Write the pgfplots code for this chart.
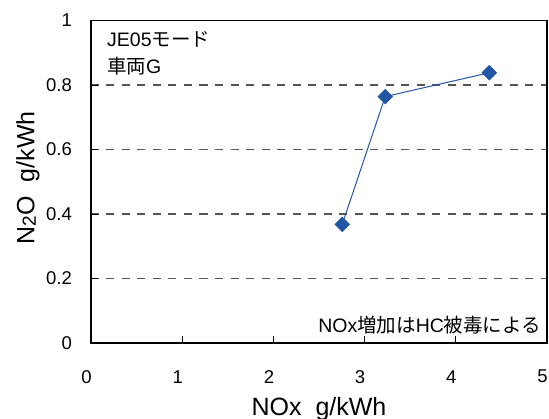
\documentclass[border=0pt]{standalone}
\usepackage{pgfplots}
\pgfplotsset{compat=1.18}
\usepackage{fontspec}
\setmainfont{Liberation Sans}
\newfontfamily\jp{Noto Sans CJK JP}
\definecolor{ser}{RGB}{35,85,165}
\definecolor{grd}{RGB}{85,85,85}
\begin{document}
\begin{tikzpicture}
\useasboundingbox (-91pt,-76pt) rectangle (458pt,343pt);
\begin{axis}[
  at={(0,0)}, anchor=south west,
  scale only axis, width=456pt, height=322.5pt,
  xmin=0, xmax=5, ymin=0, ymax=1,
  xtick={0,1,2,3,4,5}, ytick={0,0.2,0.4,0.6,0.8,1},
  tick align=inside, xtick pos=bottom, ytick pos=left,
  major tick length=7pt,
  tick style={black, line width=0.8pt},
  axis line style={black, line width=1.2pt},
  ymajorgrids,
  major grid style={grd, line width=1.1pt, dash pattern=on 8pt off 7.5pt},
  /pgf/number format/assume math mode=true,
  ticklabel style={font=\fontsize{18.5}{20}\selectfont},
  xticklabel style={anchor=center, inner sep=0pt, yshift=-33.7pt, xshift=-4.5pt},
  yticklabel style={anchor=east, inner sep=0pt, xshift=-19pt},
  xlabel={NOx\ \ g/kWh},
  ylabel={N{\fontsize{19}{19}\selectfont\raisebox{-1.5pt}{2}}O\ \ g/kWh},
  label style={font=\fontsize{25}{27}\selectfont, inner sep=0pt},
  xlabel style={at={(axis description cs:0.5,-0.2233)}, anchor=base},
  ylabel style={at={(axis description cs:-0.1243,0.512)}, anchor=base},
  clip=false,
]
\addplot[ser, line width=1pt, mark=square*, mark size=5pt,
  mark options={solid, rotate=45, fill=ser, draw=ser}]
  coordinates {(2.755,0.368) (3.226,0.764) (4.367,0.838)};
\node[anchor=west, inner sep=0pt, font=\fontsize{19.5}{21}\selectfont] at (rel axis cs:0.035,0.94) {JE05{\jp モード}};
\node[anchor=west, inner sep=0pt, font=\fontsize{19.5}{21}\selectfont] at (rel axis cs:0.035,0.857) {{\jp 車両}G};
\node[anchor=east, inner sep=0pt, font=\fontsize{19.5}{21}\selectfont] at (rel axis cs:0.987,0.056) {NOx{\jp 増加は}HC{\jp 被毒による}};
\end{axis}
\end{tikzpicture}
\end{document}
